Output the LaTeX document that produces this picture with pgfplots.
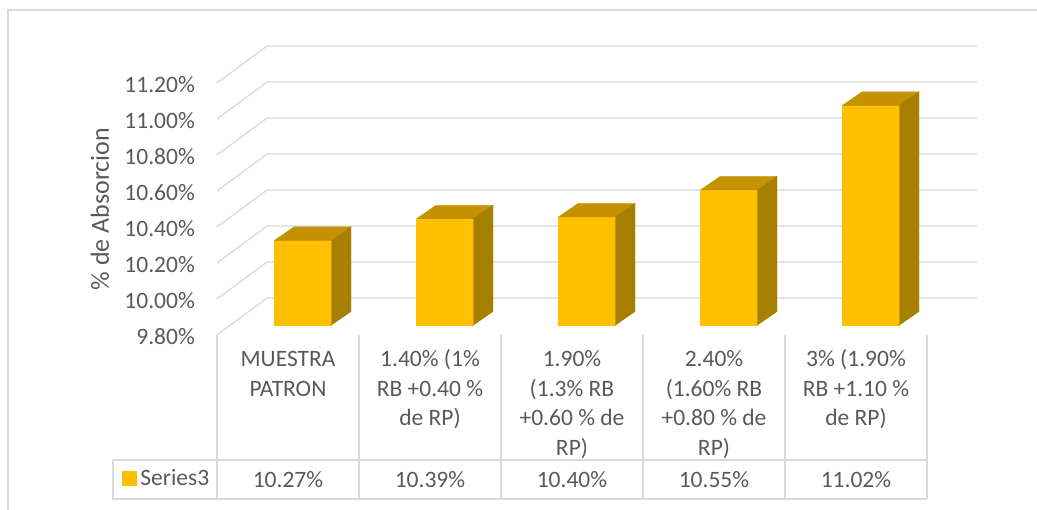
\documentclass[border=0pt]{standalone}
\usepackage{pgfplots}
\pgfplotsset{compat=1.18}
\usepackage{pgfplotstable}
\usepackage{fontspec}
\setmainfont{Carlito}
\definecolor{txt}{HTML}{595959}
\definecolor{gridc}{HTML}{D9D9D9}
\definecolor{barF}{HTML}{FFC000}
\definecolor{barT}{HTML}{C49100}
\definecolor{barS}{HTML}{A67F00}
\pgfdeclareplotmark{nothing}{}
\pgfplotstableread{
x y
0 10.27
1 10.39
2 10.40
3 10.55
4 11.02
}\datatable
\newcommand{\tfont}{\fontsize{23.5}{29.5}\selectfont}
\begin{document}
\begin{tikzpicture}
\useasboundingbox (0pt,0pt) rectangle (1037pt,-510pt);
\draw[gridc, line width=1.3pt] (8pt,-530pt) -- (8pt,-10pt) -- (1050pt,-10pt);
\begin{axis}[
  at={(217pt,-335pt)}, anchor=south west,
  scale only axis, width=710pt, height=252pt,
  xmin=-0.5, xmax=4.5, ymin=9.8, ymax=11.2,
  clip=false,
  axis line style={draw=none},
  tick style={draw=none},
  major tick length=0pt,
  /pgf/number format/assume math mode=true,
  ytick={9.8,10,10.2,10.4,10.6,10.8,11,11.2},
  yticklabel={\pgfmathprintnumber[fixed,fixed zerofill,precision=2]{\tick}\%},
  yticklabel style={anchor=east, inner sep=0pt, xshift=-22pt, yshift=-1.5pt, font=\tfont, text=txt},
  xtick={0,1,2,3,4},
  xticklabels={{\strut MUESTRA\\PATRON},{\strut 1.40\% (1\%\\RB +0.40 \%\\de RP)},{\strut 1.90\%\\(1.3\% RB\\+0.60 \% de\\RP)},{\strut 2.40\%\\(1.60\% RB\\+0.80 \% de\\RP)},{\strut 3\% (1.90\%\\RB +1.10 \%\\de RP)}},
  xticklabel style={align=center, anchor=north, inner sep=0pt, yshift=-11pt, font=\tfont, text=txt},
  every axis y label/.style={at={(axis description cs:-0.1648,0.5)}, rotate=90, anchor=center, font=\fontsize{26}{30}\selectfont, text=txt},
  ylabel={\% de Absorcion},
  legend cell align=left,
  legend style={draw=none, fill=none, inner sep=0pt, outer sep=0pt,
    at={(axis description cs:-0.1338,-0.5694)}, anchor=west,
    nodes={inner sep=0pt, font=\tfont, text=txt},
    /tikz/column sep=4pt},
]
% back wall gridlines with left-wall diagonals
\pgfplotsinvokeforeach{9.8,10.0,10.2,10.4,10.6,10.8,11.0,11.2}{
  \draw[gridc, line width=1.3pt] (axis cs:-0.5,#1) -- ++(50pt,37pt) -- ++(710pt,0pt);
}
% data table lines
\pgfplotsinvokeforeach{-0.5,0.5,1.5,2.5,3.5,4.5}{
  \draw[gridc, line width=1.3pt] (axis cs:#1,9.8) -- ++(0pt,-164pt);
}
\draw[gridc, line width=1.3pt] (axis cs:-0.5,9.8) ++(-104pt,-125pt) -- ++(814pt,0pt);
\draw[gridc, line width=1.3pt] (axis cs:-0.5,9.8) ++(-104pt,-125pt) -- ++(0pt,-39pt) -- ++(814pt,0pt);

% 3D bars
\addplot[forget plot, scatter, only marks, mark=nothing,
  visualization depends on={rawy \as \myval},
  scatter/@pre marker code/.code={%
    \pgfmathsetmacro\yb{10-(\myval-9.8)*180}%
    \fill[barF] (-13.5pt,\yb pt) rectangle (43.5pt,10pt);%
    \fill[barT] (-13.5pt,10pt) -- (43.5pt,10pt) -- (63pt,23.5pt) -- (6pt,23.5pt) -- cycle;%
    \fill[barS] (43.5pt,\yb pt) -- (63pt,\yb pt+13.5pt) -- (63pt,23.5pt) -- (43.5pt,10pt) -- cycle;%
  },
  scatter/@post marker code/.code={},
] table[x=x, y=y] {\datatable};

% values row of the data table
\addplot[forget plot, only marks, mark=nothing,
  point meta=explicit,
  nodes near coords={\pgfmathprintnumber[fixed,fixed zerofill,precision=2]{\pgfplotspointmeta}\%},
  every node near coord/.append style={anchor=center, yshift=-144.3pt, inner sep=0pt, font=\tfont, text=txt},
] table[x=x, y expr=9.8, meta=y] {\datatable};

\addlegendimage{legend image code/.code={\fill[barF] (0pt,-7pt) rectangle (14pt,7pt);}}
\addlegendentry{Series3}
\end{axis}
\end{tikzpicture}
\end{document}
